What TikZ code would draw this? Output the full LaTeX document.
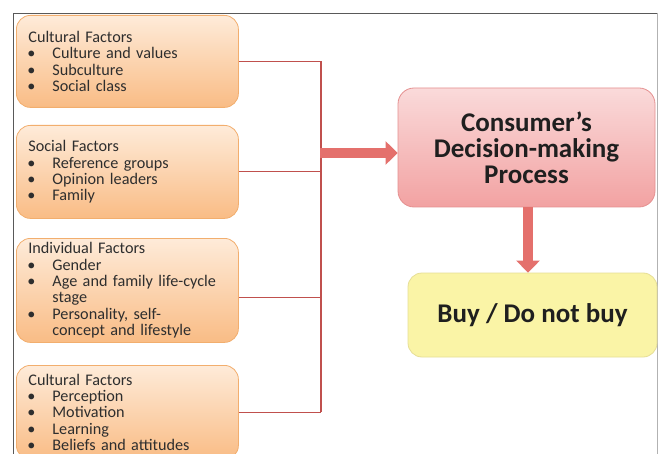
\documentclass[tikz,border=0pt]{standalone}
\usepackage{fontspec}
\setmainfont{Carlito}
\usetikzlibrary{arrows.meta}
\definecolor{orTop}{HTML}{FEEBD9}
\definecolor{orBot}{HTML}{F9BC85}
\definecolor{orEdge}{HTML}{F2AE6E}
\definecolor{pkTop}{HTML}{FADADA}
\definecolor{pkBot}{HTML}{F2A2A2}
\definecolor{pkEdge}{HTML}{E59090}
\definecolor{ylFill}{HTML}{FAF4A6}
\definecolor{ylEdge}{HTML}{E6DE96}
\definecolor{conn}{HTML}{C0504D}
\definecolor{bigarrow}{HTML}{E4706C}
\newcommand{\bl}[1]{\makebox[24pt][l]{\hspace{-1pt}•}#1}
\newcommand{\cont}[1]{\hspace*{24pt}#1}
\begin{document}
\begin{tikzpicture}[x=1pt,y=-1pt,
  factor/.style={draw=orEdge, line width=0.8pt, rounded corners=14pt,
    top color=orTop, bottom color=orBot, anchor=north west,
    minimum width=222pt, text width=198pt, inner xsep=12pt, inner ysep=0pt,
    align=left, font=\fontsize{16.2}{16.4}\selectfont, text=black!82},
  connector/.style={draw=conn, line width=1.1pt},
  fat/.style={draw=bigarrow, line width=10pt,
    -{Triangle[width=23pt,length=12pt]}, shorten >=0pt},
  bigtext/.style={align=center, font=\bfseries\fontsize{27}{26}\selectfont, text=black!88}]
\useasboundingbox (0,0) rectangle (660,454);
\fill[white] (0,0) rectangle (660,454);
\draw[black!65, line width=0.8pt] (13,454) -- (13,13) -- (657,13);
\draw[black!30, line width=0.8pt] (657,13) -- (657,454);

\node[factor, minimum height=92pt] (b1) at (16,15)
  {Cultural Factors\\ \bl{Culture and values}\\ \bl{Subculture}\\ \bl{Social class}};
\node[factor, minimum height=93pt] (b2) at (16,125)
  {Social Factors\\ \bl{Reference groups}\\ \bl{Opinion leaders}\\ \bl{Family}};
\node[factor, minimum height=104pt] (b3) at (16,238)
  {Individual Factors\\ \bl{Gender}\\ \bl{Age and family life-cycle}\\ \cont{stage}\\ \bl{Personality, self-}\\ \cont{concept and lifestyle}};
\node[factor, minimum height=94pt] (b4) at (16,365)
  {Cultural Factors\\ \bl{Perception}\\ \bl{Motivation}\\ \bl{Learning}\\ \bl{Beliefs and attitudes}};

\node[draw=pkEdge, line width=0.8pt, rounded corners=16pt, top color=pkTop, bottom color=pkBot,
  minimum width=257pt, minimum height=119pt, bigtext] (proc) at (526.5,147.5)
  {Consumer’s\\Decision-making\\Process};
\node[draw=ylEdge, line width=0.8pt, rounded corners=14pt, fill=ylFill,
  minimum width=249pt, minimum height=84pt, bigtext] (buy) at (532.5,315)
  {Buy / Do not buy};

\coordinate (bus) at (321,0);
\coordinate (b3p) at ([yshift=-7pt]b3.east);
\draw[connector] (b1.east) -- (b1.east -| bus);
\draw[connector] (b2.east) -- (b2.east -| bus);
\draw[connector] (b3p) -- (b3p -| bus);
\draw[connector] (b4.east) -- (b4.east -| bus);
\draw[connector] (b1.east -| bus) -- (b4.east -| bus);

\coordinate (arrs) at (320,153);
\draw[fat] (arrs) -- (arrs -| proc.west);
\draw[fat] (proc.south -| 528,0) -- (buy.north -| 528,0);
\end{tikzpicture}
\end{document}
